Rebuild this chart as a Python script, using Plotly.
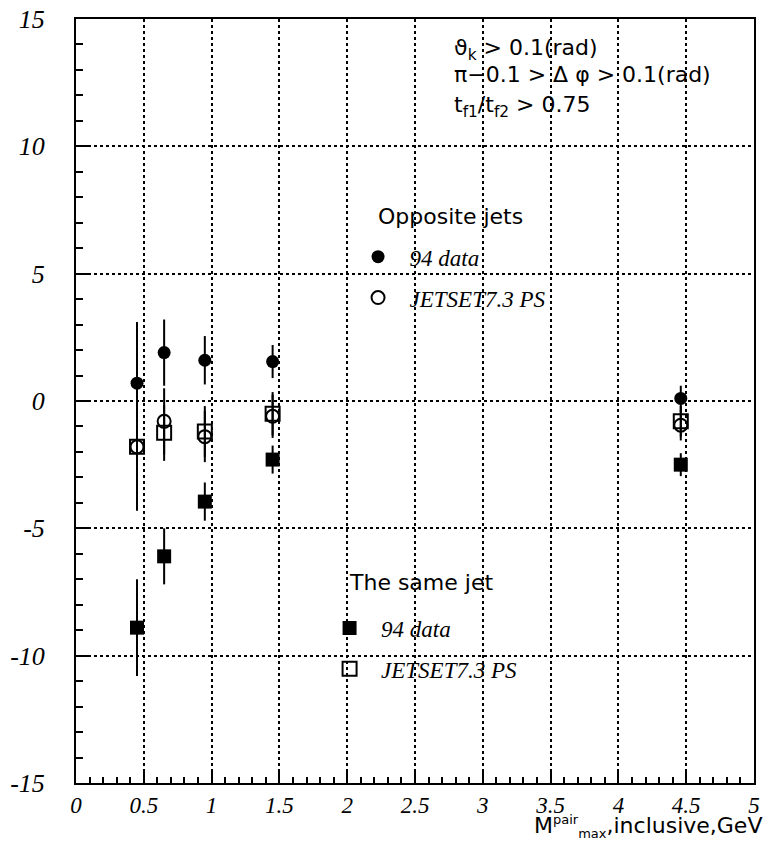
import plotly.graph_objects as go

# ---------------- data ----------------
mass_bins = [0.45, 0.65, 0.95, 1.45, 4.46]

opp_data = [0.7, 1.9, 1.6, 1.55, 0.1]
opp_data_err = [2.4, 1.3, 0.95, 0.65, 0.5]
opp_mc = [-1.8, -0.8, -1.4, -0.6, -0.95]
opp_mc_err = [2.5, 1.3, 1.0, 0.85, 0.6]

same_data = [-8.9, -6.1, -3.95, -2.3, -2.5]
same_data_err = [1.9, 1.1, 0.75, 0.55, 0.45]
same_mc = [-1.8, -1.25, -1.2, -0.5, -0.8]
same_mc_err = [2.5, 1.1, 1.0, 0.85, 0.6]

x_tick_vals = [0, 0.5, 1, 1.5, 2, 2.5, 3, 3.5, 4, 4.5, 5]
x_tick_labels = ["0", "0.5", "1", "1.5", "2", "2.5", "3", "3.5", "4", "4.5", "5"]
y_tick_vals = [-15, -10, -5, 0, 5, 10, 15]
y_tick_labels = ["-15", "-10", "-5", "0", "5", "10", "15"]

SERIF = "Liberation Serif"
SANS = "DejaVu Sans"
NB = "\u00a0\u00a0"

fig = go.Figure()


def err(a):
    return dict(type="data", array=a, visible=True, color="black", thickness=2, width=0)


fig.add_trace(go.Scatter(
    x=mass_bins, y=same_mc, error_y=err(same_mc_err), mode="markers",
    marker=dict(symbol="square-open", size=14, color="black", line=dict(width=2)),
    name=NB + "<i>JETSET7.3 PS</i>", legend="legend2", legendgroup="d", legendrank=4))
fig.add_trace(go.Scatter(
    x=mass_bins, y=opp_mc, error_y=err(opp_mc_err), mode="markers",
    marker=dict(symbol="circle-open", size=13, color="black", line=dict(width=2)),
    name=NB + "<i>JETSET7.3 PS</i>", legend="legend", legendgroup="b", legendrank=2))
fig.add_trace(go.Scatter(
    x=mass_bins, y=opp_data, error_y=err(opp_data_err), mode="markers",
    marker=dict(symbol="circle", size=13, color="black"),
    name=NB + "<i>94 data</i>", legend="legend", legendgroup="a", legendrank=1))
fig.add_trace(go.Scatter(
    x=mass_bins, y=same_data, error_y=err(same_data_err), mode="markers",
    marker=dict(symbol="square", size=14, color="black"),
    name=NB + "<i>94 data</i>", legend="legend2", legendgroup="c", legendrank=3))

axis_common = dict(
    showline=True, linecolor="black", linewidth=2, mirror=True,
    ticks="inside", tickcolor="black", tickwidth=2, ticklen=13,
    showgrid=True, gridcolor="black", gridwidth=1.5, griddash="dot",
    zeroline=False, ticklabeloverflow="allow",
)

fig.update_xaxes(
    range=[0, 5], tickmode="array", tickvals=x_tick_vals,
    ticktext=["<i>%s</i>" % t for t in x_tick_labels],
    tickfont=dict(family=SERIF, size=23, color="black"),
    minor=dict(dtick=0.1, ticks="inside", ticklen=6, tickcolor="black", tickwidth=2, showgrid=False),
    ticklabelstandoff=0, **axis_common)
fig.update_yaxes(
    range=[-15, 15], tickmode="array", tickvals=y_tick_vals,
    ticktext=["<i>%s</i>" % t for t in y_tick_labels],
    tickfont=dict(family=SERIF, size=26, color="black"),
    minor=dict(dtick=1, ticks="inside", ticklen=7, tickcolor="black", tickwidth=2, showgrid=False),
    ticklabelstandoff=24, **axis_common)

legend_common = dict(
    bgcolor="rgba(0,0,0,0)", font=dict(family=SERIF, size=23, color="black"),
    traceorder="grouped", tracegroupgap=8, xanchor="left", yanchor="top",
    itemclick=False)

fig.update_layout(
    width=765, height=844,
    margin=dict(l=76, r=5, t=12, b=61),
    paper_bgcolor="white", plot_bgcolor="white",
    showlegend=True,
    legend=dict(x=0.416, y=0.717, **legend_common),
    legend2=dict(x=0.374, y=0.231, **legend_common),
)

ann_font = dict(family=SANS, size=22, color="black")
annotations = [
    dict(text="ϑ<sub>k</sub> > 0.1(rad)", x=0.554, y=0.960),
    dict(text="π−0.1 > Δ φ > 0.1(rad)", x=0.554, y=0.928),
    dict(text="t<sub>f1</sub>/t<sub>f2</sub> > 0.75", x=0.554, y=0.885),
    dict(text="Opposite jets", x=0.443, y=0.742),
    dict(text="The same jet", x=0.40, y=0.262),
]
for a in annotations:
    fig.add_annotation(xref="paper", yref="paper", xanchor="left", yanchor="middle",
                       showarrow=False, font=ann_font, **a)

fig.add_annotation(
    xref="paper", yref="paper", x=1.0, y=-0.079, xanchor="right", yanchor="bottom",
    xshift=10, showarrow=False, font=dict(family=SANS, size=22, color="black"),
    text="M<sup><span style='font-size:13px'>pair</span></sup>"
         "<sub><span style='font-size:13px'>max</span></sub>,inclusive,GeV")

fig.write_html("out.html")
